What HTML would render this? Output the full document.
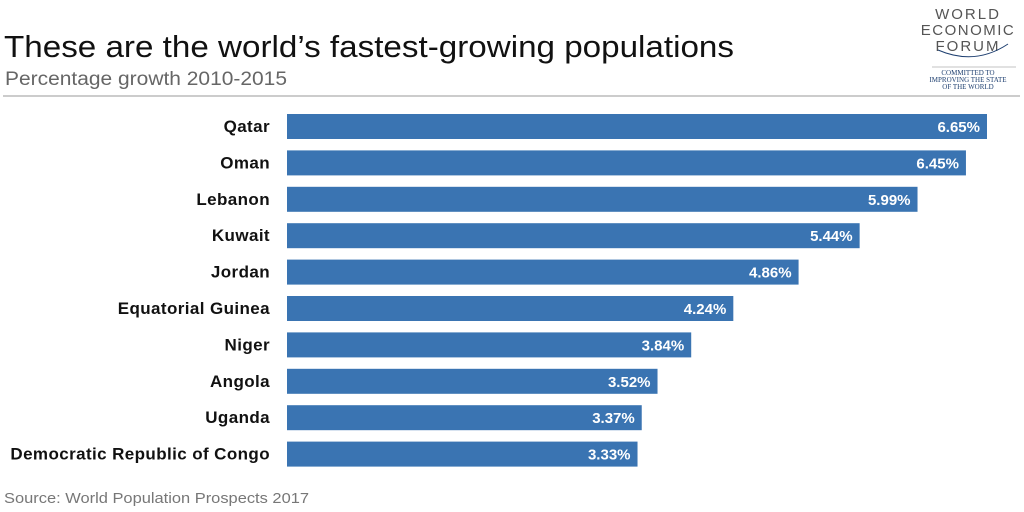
<!DOCTYPE html>
<html><head><meta charset="utf-8"><style>body{margin:0;background:#fff}svg{display:block}</style></head>
<body>
<svg id="chart" width="1024" height="512" xmlns="http://www.w3.org/2000/svg" font-family="Liberation Sans, Arial, sans-serif">
<rect width="1024" height="512" fill="#fff"/>
<text x="4" y="57" font-size="31" fill="#111" textLength="730" lengthAdjust="spacingAndGlyphs">These are the world’s fastest-growing populations</text>
<text x="5" y="85" font-size="19" fill="#666" textLength="282" lengthAdjust="spacingAndGlyphs">Percentage growth 2010-2015</text>
<line x1="3" y1="96" x2="1020" y2="96" stroke="#999" stroke-width="1"/>
<g font-family="Liberation Sans, Arial, sans-serif" fill="#555">
<text x="968" y="19" font-size="15" text-anchor="middle" letter-spacing="2">WORLD</text>
<text x="968" y="35" font-size="15" text-anchor="middle" letter-spacing="1.5">ECONOMIC</text>
<text x="968" y="51" font-size="15" text-anchor="middle" letter-spacing="2">FORUM</text>
<path d="M938 50 Q975 66 1008 44" fill="none" stroke="#1e3f70" stroke-width="1"/>
<line x1="932" y1="67" x2="1016" y2="67" stroke="#888" stroke-width="0.6"/>
<text x="968" y="75" font-size="7" text-anchor="middle" font-family="Liberation Serif, serif" fill="#1e3f70">COMMITTED TO</text>
<text x="968" y="82" font-size="7" text-anchor="middle" font-family="Liberation Serif, serif" fill="#1e3f70">IMPROVING THE STATE</text>
<text x="968" y="89" font-size="7" text-anchor="middle" font-family="Liberation Serif, serif" fill="#1e3f70">OF THE WORLD</text>
</g>
<g id="bars"></g>
<text x="4" y="503" font-size="15" fill="#777" textLength="305" lengthAdjust="spacingAndGlyphs">Source: World Population Prospects 2017</text>
</svg>
<script>
const categories = ["Qatar","Oman","Lebanon","Kuwait","Jordan","Equatorial Guinea","Niger","Angola","Uganda","Democratic Republic of Congo"];
const values = [6.65,6.45,5.99,5.44,4.86,4.24,3.84,3.52,3.37,3.33];
const valueLabels = ["6.65%","6.45%","5.99%","5.44%","4.86%","4.24%","3.84%","3.52%","3.37%","3.33%"];
const NS="http://www.w3.org/2000/svg";
const x0=287, pxPer=700/6.65;
function xScale(v){return x0+v*pxPer;}
function yScale(i){return 114+i*36.4;}
const g=document.getElementById('bars');
categories.forEach((c,i)=>{
  const y=yScale(i), w=xScale(values[i])-x0;
  const r=document.createElementNS(NS,'rect');
  
  
  r.setAttribute('x',x0);r.setAttribute('y',y);r.setAttribute('width',w);r.setAttribute('height',25);r.setAttribute('fill','#3a74b2');
  g.appendChild(r);
  const t=document.createElementNS(NS,'text');
  
  
  t.setAttribute('x',270);t.setAttribute('y',y+18);t.setAttribute('text-anchor','end');
  t.setAttribute('font-size','17');t.setAttribute('font-weight','bold');t.setAttribute('letter-spacing','0.4');t.setAttribute('fill','#111');
  t.textContent=c;g.appendChild(t);
  const v=document.createElementNS(NS,'text');
  
  
  v.setAttribute('x',xScale(values[i])-7);v.setAttribute('y',y+18);v.setAttribute('text-anchor','end');
  v.setAttribute('font-size','15');v.setAttribute('font-weight','bold');v.setAttribute('fill','#fff');
  v.textContent=valueLabels[i];g.appendChild(v);
});
</script>
</body></html>
